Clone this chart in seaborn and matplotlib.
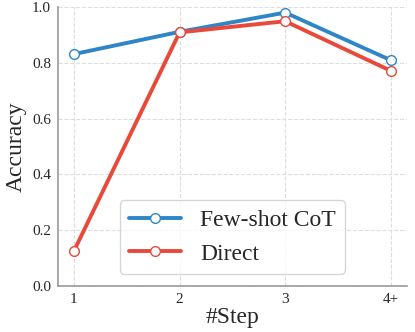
import pandas as pd
import matplotlib.pyplot as plt
import seaborn as sns

steps = ["1", "2", "3", "4+"]
few_shot_cot = [0.832, 0.912, 0.981, 0.810]
direct = [0.125, 0.910, 0.950, 0.772]

df = pd.DataFrame({
    "step": steps * 2,
    "acc": few_shot_cot + direct,
    "method": ["Few-shot CoT"] * 4 + ["Direct"] * 4,
})

sns.set_style("whitegrid", {"grid.linestyle": "--", "grid.color": "#dddddd"})
plt.rcParams["font.family"] = ["Liberation Serif", "DejaVu Serif"]

fig, ax = plt.subplots(figsize=(4.15, 3.32), dpi=100)
palette = {"Few-shot CoT": "#2e86c8", "Direct": "#e8493a"}
sns.lineplot(data=df, x="step", y="acc", hue="method", palette=palette,
             marker="o", markersize=7, markerfacecolor="white",
             linewidth=2.8, sort=False, ax=ax)
for line in ax.lines:
    line.set_markeredgecolor(line.get_color())
    line.set_markeredgewidth(1.0)

ax.set_ylim(0, 1.0)
ax.set_xlim(-0.15, 3.15)
ax.set_yticks([0.0, 0.2, 0.4, 0.6, 0.8, 1.0])
ax.tick_params(labelsize=11, length=3, pad=2, color="#999999")
ax.set_xlabel("#Step", fontsize=17, labelpad=1)
ax.set_ylabel("Accuracy", fontsize=17, labelpad=4)
sns.despine(ax=ax)
for s in ["left", "bottom"]:
    ax.spines[s].set_color("#999999")
    ax.spines[s].set_linewidth(1.2)

leg = ax.legend(loc="lower center", bbox_to_anchor=(0.5, 0.0), fontsize=17,
                handlelength=2.2, frameon=True)
for h in leg.legend_handles:
    h.set_markerfacecolor("white")
    h.set_markeredgecolor(h.get_color())

fig.subplots_adjust(left=0.14, right=0.98, top=0.978, bottom=0.139)
fig.savefig("out.png", dpi=100)
